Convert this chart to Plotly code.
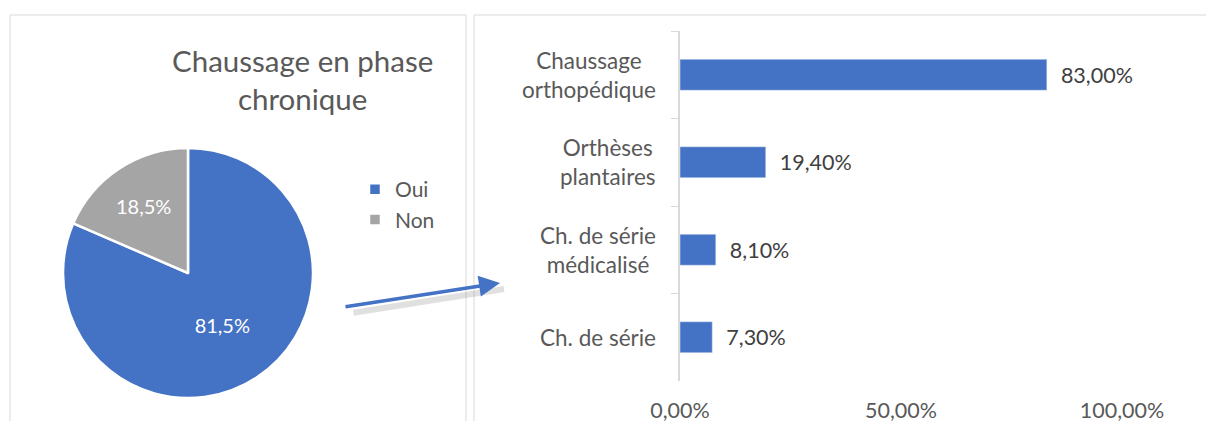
import plotly.graph_objects as go

W, H = 1206, 421

pie_labels = ["Oui", "Non"]
pie_values = [81.5, 18.5]
pie_colors = ["#4472C4", "#A5A5A5"]
pie_title = "Chaussage en phase<br>chronique"

bar_categories = ["Chaussage<br>orthopédique", "Orthèses<br>plantaires",
                  "Ch. de série<br>médicalisé", "Ch. de série"]
bar_values = [83.0, 19.4, 8.1, 7.3]
x_ticks = [0, 50, 100]
x_ticktext = ["0,00%", "50,00%", "100,00%"]

FONT = "Lato"
TXT = "#595959"

def px(x):
    return x / W

def py(y):
    return 1 - y / H

fig = go.Figure()

fig.add_trace(go.Pie(
    labels=pie_labels, values=pie_values, sort=False, direction="clockwise",
    rotation=0, marker=dict(colors=pie_colors, line=dict(color="white", width=2.5)),
    texttemplate="%{percent:.1%}", textposition="inside",
    insidetextorientation="horizontal",
    textfont=dict(family=FONT, size=20, color="white"),
    domain=dict(x=[px(63), px(313)], y=[py(398), py(148)]),
    showlegend=True, hoverinfo="label+percent", automargin=False,
))

fig.add_trace(go.Bar(
    x=bar_values, y=bar_categories, orientation="h",
    marker=dict(color="#4472C4"), width=0.354,
    texttemplate="\u00a0\u00a0%{x:.2f}%", textposition="outside",
    textfont=dict(family=FONT, size=21.5, color="#404040"),
    cliponaxis=False, showlegend=False, xaxis="x", yaxis="y",
))

annotations = []
annotations.append(dict(
    text=pie_title, x=px(302), y=py(41), xref="paper", yref="paper",
    xanchor="center", yanchor="top", showarrow=False, align="center",
    font=dict(family=FONT, size=29.5, color=TXT),
))
for cat in bar_categories:
    annotations.append(dict(
        text=cat, x=px(658), y=cat, xref="paper", yref="y",
        xanchor="right", yanchor="middle", showarrow=False, align="center",
        font=dict(family=FONT, size=22.5, color=TXT),
    ))
# arrow shadow
annotations.append(dict(
    text="", x=px(504), y=py(289), xref="paper", yref="paper",
    ax=-152, ay=24, showarrow=True, arrowhead=0, arrowwidth=6,
    arrowcolor="rgba(120,120,120,0.22)",
))
# arrow
annotations.append(dict(
    text="", x=px(500), y=py(283), xref="paper", yref="paper",
    ax=-156, ay=24, showarrow=True, arrowhead=2, arrowsize=1.2, arrowwidth=3.5,
    arrowcolor="#4472C4",
))

shapes = [
    dict(type="rect", xref="paper", yref="paper", x0=px(10), x1=px(466),
         y0=py(430), y1=py(15), line=dict(color="#D9D9D9", width=1)),
    dict(type="rect", xref="paper", yref="paper", x0=px(474), x1=px(1215),
         y0=py(430), y1=py(15), line=dict(color="#D9D9D9", width=1)),
]

fig.update_layout(
    width=W, height=H, margin=dict(l=0, r=0, t=0, b=0, autoexpand=False),
    paper_bgcolor="white", plot_bgcolor="white",
    separators=", ",
    font=dict(family=FONT, color=TXT),
    xaxis=dict(domain=[px(680), px(1122)], range=[0, 100], tickvals=x_ticks,
               ticktext=x_ticktext, showgrid=False, zeroline=False,
               showline=False, ticks="", ticklabelstandoff=14, automargin=False,
               tickfont=dict(family=FONT, size=21.5, color=TXT)),
    yaxis=dict(domain=[py(381), py(31)], autorange="reversed", showgrid=False,
               zeroline=False, showline=True, linecolor="#D9D9D9", linewidth=1.5,
               ticks="outside", tickson="boundaries", ticklen=7, automargin=False,
               tickcolor="#D9D9D9", showticklabels=False),
    legend=dict(x=px(355), y=py(169), xanchor="left", yanchor="top",
                font=dict(family=FONT, size=21, color=TXT),
                bgcolor="rgba(0,0,0,0)", itemwidth=30),
    annotations=annotations, shapes=shapes,
)

fig.write_html(
    "out.html",
    config={"displayModeBar": False},
    post_script="document.body.style.margin='0';document.body.style.overflow='hidden';",
)
